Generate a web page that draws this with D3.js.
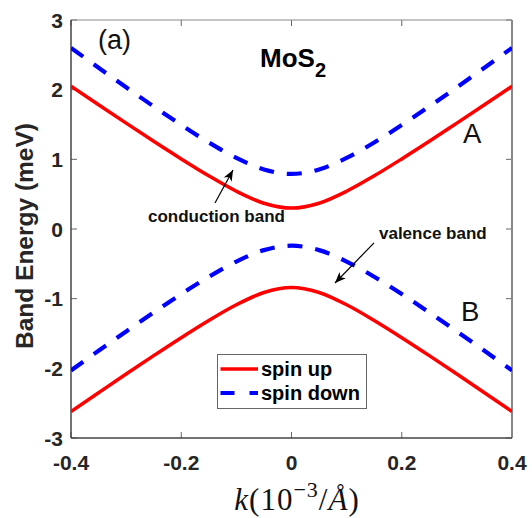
<!DOCTYPE html>
<html>
<head>
<meta charset="utf-8">
<script src="https://cdn.jsdelivr.net/npm/d3@7/dist/d3.min.js"></script>
<style>
  html, body { margin: 0; padding: 0; background: #fff; }
  svg { display: block; }
</style>
</head>
<body>
<svg id="chart" width="532" height="518"></svg>
<script>
// ---- data ----
const kValues = [-0.4, -0.35, -0.3, -0.25, -0.2, -0.15, -0.1, -0.05, 0, 0.05, 0.1, 0.15, 0.2, 0.25, 0.3, 0.35, 0.4];
const condUp   = [2.05, 1.784, 1.520, 1.259, 1.006, 0.763, 0.542, 0.370, 0.30, 0.370, 0.542, 0.763, 1.006, 1.259, 1.520, 1.784, 2.05];
const condDown = [2.60, 2.315, 2.034, 1.759, 1.493, 1.242, 1.020, 0.854, 0.79, 0.854, 1.020, 1.242, 1.493, 1.759, 2.034, 2.315, 2.60];
const valUp    = [-2.62, -2.350, -2.082, -1.818, -1.560, -1.313, -1.088, -0.912, -0.84, -0.912, -1.088, -1.313, -1.560, -1.818, -2.082, -2.350, -2.62];
const valDown  = [-2.03, -1.748, -1.470, -1.197, -0.934, -0.686, -0.467, -0.303, -0.24, -0.303, -0.467, -0.686, -0.934, -1.197, -1.470, -1.748, -2.03];
const xTicks = [-0.4, -0.2, 0, 0.2, 0.4];
const xTickLabels = ["-0.4", "-0.2", "0", "0.2", "0.4"];
const yTicks = [-3, -2, -1, 0, 1, 2, 3];
const yTickLabels = ["-3", "-2", "-1", "0", "1", "2", "3"];
const legendLabels = ["spin up", "spin down"];

// ---- layout ----
const svg = d3.select("#chart");
const L = 71, R = 512, T = 20, B = 438;
const x = d3.scaleLinear().domain([-0.4, 0.4]).range([L, R]);
const y = d3.scaleLinear().domain([-3, 3]).range([B, T]);
const bold = "'Liberation Sans', Arial, Helvetica, sans-serif";

// defs: arrow marker
const defs = svg.append("defs");
defs.append("marker").attr("id", "arr")
  .attr("viewBox", "-12 -6 14 12").attr("refX", 0).attr("refY", 0)
  .attr("markerWidth", 14).attr("markerHeight", 12).attr("markerUnits", "userSpaceOnUse")
  .attr("orient", "auto")
  .append("path").attr("d", "M0,0 L-11,-4.5 L-8,0 L-11,4.5 Z").attr("fill", "#000");

// clip
defs.append("clipPath").attr("id", "clip").append("rect")
  .attr("x", L).attr("y", T).attr("width", R - L).attr("height", B - T);

// axes box
const axisColor = "#666";
const gAxes = svg.append("g");
const ticks = 6;
xTicks.forEach(v => {
  gAxes.append("line").attr("x1", x(v)).attr("x2", x(v)).attr("y1", B).attr("y2", B - ticks)
    .attr("stroke", axisColor).attr("stroke-width", 1);
  gAxes.append("line").attr("x1", x(v)).attr("x2", x(v)).attr("y1", T).attr("y2", T + ticks)
    .attr("stroke", axisColor).attr("stroke-width", 1);
});
yTicks.forEach(v => {
  gAxes.append("line").attr("x1", L).attr("x2", L + ticks).attr("y1", y(v)).attr("y2", y(v))
    .attr("stroke", axisColor).attr("stroke-width", 1);
  gAxes.append("line").attr("x1", R).attr("x2", R - ticks).attr("y1", y(v)).attr("y2", y(v))
    .attr("stroke", axisColor).attr("stroke-width", 1);
});
gAxes.append("line").attr("x1", L).attr("x2", R).attr("y1", T).attr("y2", T).attr("stroke", "#888").attr("stroke-width", 1);
gAxes.append("line").attr("x1", R).attr("x2", R).attr("y1", T).attr("y2", B).attr("stroke", "#888").attr("stroke-width", 2);
gAxes.append("line").attr("x1", L).attr("x2", L).attr("y1", T).attr("y2", B).attr("stroke", "#444").attr("stroke-width", 1.5);
gAxes.append("line").attr("x1", L).attr("x2", R).attr("y1", B).attr("y2", B).attr("stroke", "#444").attr("stroke-width", 1.5);

// tick labels
xTicks.forEach((v, i) => {
  svg.append("text").attr("x", x(v)).attr("y", 470).attr("text-anchor", "middle")
    .attr("font-family", bold).attr("font-weight", "bold").attr("font-size", 21)
    .attr("fill", "#262626").text(xTickLabels[i]);
});
yTicks.forEach((v, i) => {
  svg.append("text").attr("x", 63).attr("y", y(v) + 7.5).attr("text-anchor", "end")
    .attr("font-family", bold).attr("font-weight", "bold").attr("font-size", 21)
    .attr("fill", "#262626").text(yTickLabels[i]);
});

// axis labels
svg.append("text").attr("transform", "translate(33,236) rotate(-90)").attr("text-anchor", "middle")
  .attr("font-family", bold).attr("font-weight", "bold").attr("font-size", 24.5)
  .attr("fill", "#262626").text("Band Energy (meV)");

const xl = svg.append("text").attr("x", 297).attr("y", 510).attr("text-anchor", "middle")
  .attr("font-family", "'Liberation Serif', 'Times New Roman', serif").attr("font-size", 31)
  .attr("letter-spacing", 1).attr("fill", "#111");
xl.append("tspan").attr("font-style", "italic").text("k");
xl.append("tspan").text("(10");
xl.append("tspan").attr("font-size", 22).attr("dy", -13).text("\u22123");
xl.append("tspan").attr("dy", 13).text("/");
xl.append("tspan").attr("font-style", "italic").text("Å");
xl.append("tspan").text(")");

// curves
const pts = arr => kValues.map((k, i) => [k, arr[i]]);
const line = d3.line().x(d => x(d[0])).y(d => y(d[1])).curve(d3.curveMonotoneX);
const gc = svg.append("g").attr("clip-path", "url(#clip)");
const red = "#ff0000", blue = "#0000ff";
[condUp, valUp].forEach(a => {
  gc.append("path").attr("d", line(pts(a))).attr("fill", "none").attr("stroke", red).attr("stroke-width", 3.5);
});
[condDown, valDown].forEach(a => {
  gc.append("path").attr("d", line(pts(a))).attr("fill", "none").attr("stroke", blue)
    .attr("stroke-width", 4.2).attr("stroke-dasharray", "15,13");
});

// annotations
const ann = (k, e, txt, size, weight, anchor) =>
  svg.append("text").attr("x", x(k)).attr("y", y(e)).attr("text-anchor", anchor || "start")
    .attr("font-family", bold).attr("font-weight", weight).attr("font-size", size).attr("fill", "#111").text(txt);

ann(-0.351, 2.584, "(a)", 27, "normal");
const mt = svg.append("text").attr("x", x(-0.0571)).attr("y", y(2.325))
  .attr("font-family", bold).attr("font-weight", "bold").attr("font-size", 26).attr("fill", "#000");
mt.append("tspan").text("MoS");
mt.append("tspan").attr("font-size", 20).attr("dy", 10).text("2");
ann(0.311, 1.234, "A", 27.5, "normal");
ann(0.3075, -1.32, "B", 27.5, "normal");
ann(-0.2603, 0.10, "conduction band", 17, "bold");
ann(0.1587, -0.1435, "valence band", 17, "bold");

svg.append("line").attr("x1", x(-0.1388)).attr("y1", y(0.373)).attr("x2", x(-0.1061)).attr("y2", y(0.847))
  .attr("stroke", "#000").attr("stroke-width", 1.2).attr("marker-end", "url(#arr)");
svg.append("line").attr("x1", x(0.1497)).attr("y1", y(-0.20)).attr("x2", x(0.0789)).attr("y2", y(-0.775))
  .attr("stroke", "#000").attr("stroke-width", 1.2).attr("marker-end", "url(#arr)");

// legend
const lg = svg.append("g");
lg.append("rect").attr("x", 217.5).attr("y", 354.5).attr("width", 149).attr("height", 54)
  .attr("fill", "#fff").attr("stroke", "#666").attr("stroke-width", 1);
const legendStyles = [{c: red, w: 3.5, d: null}, {c: blue, w: 4.2, d: "14,15"}];
legendLabels.forEach((lab, i) => {
  const yy = 369 + i * 24;
  const s = legendStyles[i];
  const l = lg.append("line").attr("x1", 220.5).attr("x2", 258).attr("y1", yy).attr("y2", yy)
    .attr("stroke", s.c).attr("stroke-width", s.w);
  if (s.d) l.attr("stroke-dasharray", s.d);
  lg.append("text").attr("x", 261).attr("y", yy + 7).attr("font-family", bold).attr("font-weight", "bold")
    .attr("font-size", 20).attr("fill", "#000").text(lab);
});
</script>
</body>
</html>
